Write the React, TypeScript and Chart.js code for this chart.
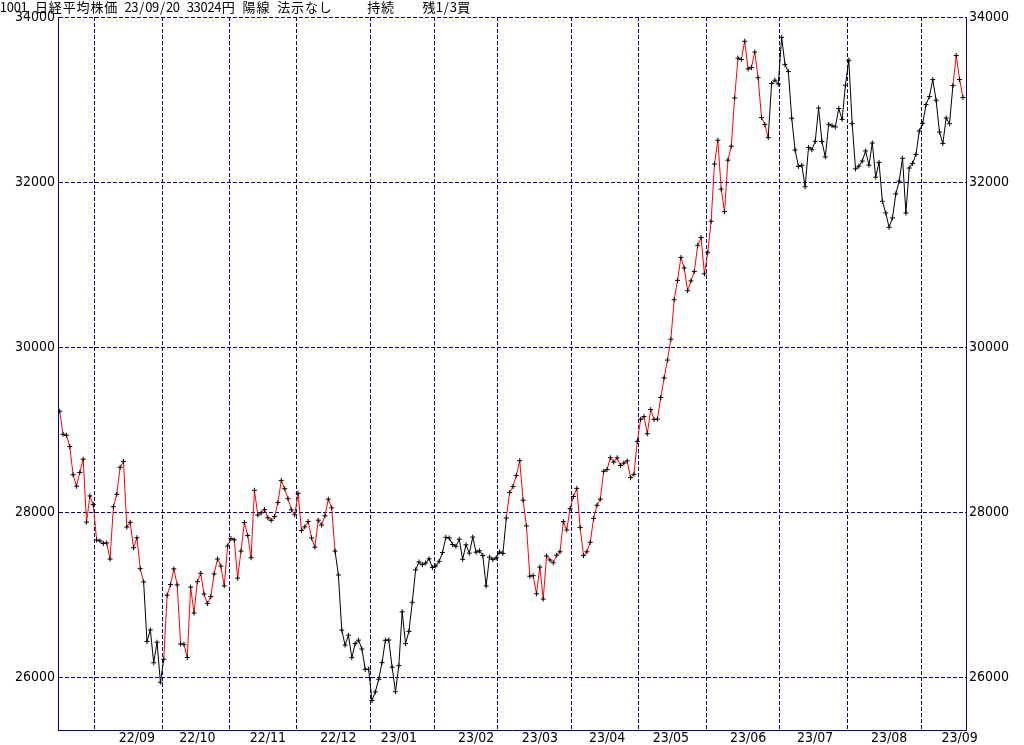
import { useEffect, useRef } from 'react';
import { Chart, registerables } from 'chart.js';

Chart.register(...registerables);

// Month labels (YY/MM)
const monthLabels = ['22/08', '22/09', '22/10', '22/11', '22/12', '23/01', '23/02', '23/03', '23/04', '23/05', '23/06', '23/07', '23/08', '23/09'];

// Trading days of each month
const tradingDays: number[][] = [
  [17, 18, 19, 22, 23, 24, 25, 26, 29, 30, 31],
  [1, 2, 5, 6, 7, 8, 9, 12, 13, 14, 15, 16, 20, 21, 22, 26, 27, 28, 29, 30],
  [3, 4, 5, 6, 7, 11, 12, 13, 14, 17, 18, 19, 20, 21, 24, 25, 26, 27, 28, 31],
  [1, 2, 4, 7, 8, 9, 10, 11, 14, 15, 16, 17, 18, 21, 22, 24, 25, 28, 29, 30],
  [1, 2, 5, 6, 7, 8, 9, 12, 13, 14, 15, 16, 19, 20, 21, 22, 23, 26, 27, 28, 29, 30],
  [4, 5, 6, 10, 11, 12, 13, 16, 17, 18, 19, 20, 23, 24, 25, 26, 27, 30, 31],
  [1, 2, 3, 6, 7, 8, 9, 10, 13, 14, 15, 16, 17, 20, 21, 22, 24, 27, 28],
  [1, 2, 3, 6, 7, 8, 9, 10, 13, 14, 15, 16, 17, 20, 22, 23, 24, 27, 28, 29, 30, 31],
  [3, 4, 5, 6, 7, 10, 11, 12, 13, 14, 17, 18, 19, 20, 21, 24, 25, 26, 27, 28],
  [1, 2, 8, 9, 10, 11, 12, 15, 16, 17, 18, 19, 22, 23, 24, 25, 26, 29, 30, 31],
  [1, 2, 5, 6, 7, 8, 9, 12, 13, 14, 15, 16, 19, 20, 21, 22, 23, 26, 27, 28, 29, 30],
  [3, 4, 5, 6, 7, 10, 11, 12, 13, 14, 18, 19, 20, 21, 24, 25, 26, 27, 28, 31],
  [1, 2, 3, 4, 7, 8, 9, 10, 14, 15, 16, 17, 18, 21, 22, 23, 24, 25, 28, 29, 30, 31],
  [1, 4, 5, 6, 7, 8, 11, 12, 13, 14, 15, 19, 20],
];

// Daily closes (yen), one array per month
const closes: number[][] = [
  [29222, 28942, 28930, 28794, 28452, 28313, 28479, 28641, 27878, 28195, 28091],
  [27661, 27650, 27619, 27626, 27430, 28065, 28214, 28542, 28614, 27818, 27875, 27567, 27688, 27313, 27153, 26431, 26571, 26173, 26422, 25937],
  [26215, 26992, 27120, 27311, 27116, 26401, 26397, 26237, 27090, 26775, 27156, 27257, 27006, 26890, 26974, 27250, 27431, 27345, 27105, 27587],
  [27678, 27663, 27199, 27527, 27872, 27716, 27446, 28263, 27963, 27990, 28028, 27930, 27899, 27944, 28115, 28383, 28283, 28162, 28027, 27968],
  [28226, 27777, 27820, 27885, 27686, 27574, 27901, 27842, 27954, 28156, 28051, 27527, 27237, 26568, 26387, 26507, 26235, 26405, 26447, 26340, 26093, 26094],
  [25716, 25820, 25973, 26175, 26446, 26449, 26119, 25822, 26138, 26791, 26405, 26553, 26906, 27299, 27395, 27362, 27382, 27433, 27327],
  [27346, 27402, 27509, 27693, 27685, 27606, 27584, 27670, 27427, 27602, 27501, 27696, 27513, 27531, 27473, 27104, 27453, 27423, 27445],
  [27516, 27498, 27927, 28237, 28309, 28444, 28623, 28143, 27832, 27222, 27229, 27010, 27333, 26945, 27466, 27419, 27385, 27476, 27518, 27883, 27782, 28041],
  [28188, 28287, 27813, 27472, 27518, 27633, 27923, 28082, 28156, 28493, 28514, 28658, 28606, 28657, 28564, 28593, 28620, 28416, 28457, 28856],
  [29123, 29157, 28949, 29242, 29122, 29126, 29388, 29626, 29842, 30093, 30573, 30808, 31086, 30957, 30682, 30801, 30916, 31233, 31328, 30887],
  [31148, 31524, 32217, 32506, 31913, 31641, 32265, 32434, 33018, 33502, 33485, 33706, 33370, 33388, 33575, 33264, 32781, 32698, 32538, 33193, 33234, 33189],
  [33753, 33422, 33338, 32773, 32388, 32189, 32203, 31943, 32419, 32391, 32493, 32896, 32490, 32304, 32700, 32682, 32668, 32891, 32759, 33172],
  [33476, 32707, 32159, 32192, 32254, 32377, 32204, 32473, 32059, 32238, 31766, 31626, 31450, 31565, 31856, 32010, 32287, 31624, 32169, 32226, 32333, 32619],
  [32710, 32939, 33036, 33241, 32991, 32606, 32467, 32776, 32707, 33168, 33533, 33242, 33024],
];

// Trend signals (date -> side); the line is red while "buy", black while "sell"
const signalDates = ['22/09/22', '22/10/03', '22/12/16', '23/03/03', '23/06/27', '23/09/14'];
const signalSides = ['sell', 'buy', 'sell', 'buy', 'sell', 'buy'];
const initialSide = 'buy';

// Y ticks
const yTicks = [26000, 28000, 30000, 32000, 34000];
const yMin = 25358;
const yMax = 34000;

// Header line (fixed-pitch text)
const headerText = '1001 日経平均株価 23/09/20 33024円 陽線 法示なし     持続    残1/3買';

// ---- derived ----
const points: { x: number; y: number }[] = [];
const dateKeys: string[] = [];
const monthStart: number[] = [];
{
  let idx = 0;
  monthLabels.forEach((m, mi) => {
    monthStart.push(idx);
    tradingDays[mi].forEach((d, di) => {
      dateKeys.push(`${m}/${String(d).padStart(2, '0')}`);
      points.push({ x: idx, y: closes[mi][di] });
      idx++;
    });
  });
}
const sideAt: string[] = [];
{
  let side = initialSide;
  dateKeys.forEach((k) => {
    const si = signalDates.indexOf(k);
    if (si >= 0) side = signalSides[si];
    sideAt.push(side);
  });
}
const LABEL_SHIFT = -0.4;
const boundaryValues = monthStart.slice(1).map((s) => s - 0.5);
const labelAnchors = new Map<number, string>();
monthLabels.forEach((m, mi) => {
  const days = tradingDays[mi];
  if (days[0] >= 10) return; // partial month, no label
  const di = days.findIndex((d) => d >= 10);
  labelAnchors.set(monthStart[mi] + di + LABEL_SHIFT, m);
});
const boundarySet = new Set(boundaryValues);
const xTickValues = [...boundaryValues, ...labelAnchors.keys()].sort((a, b) => a - b);

const NAVY = '#000080';
const tickFont = { family: "'Liberation Sans Narrow', 'DejaVu Sans Condensed', 'Noto Sans', sans-serif", size: 14 };

const headerPlugin = {
  id: 'headerText',
  afterDraw(chart: any) {
    const ctx = chart.ctx as CanvasRenderingContext2D;
    const cell = 6.92;
    ctx.save();
    ctx.font = "13px 'Noto Sans CJK JP', 'Noto Sans', sans-serif";
    ctx.fillStyle = '#000';
    ctx.textBaseline = 'alphabetic';
    ctx.textAlign = 'center';
    let u = 0;
    for (const ch of headerText) {
      const w = ch.charCodeAt(0) < 0x100 ? 1 : 2;
      if (ch !== ' ') ctx.fillText(ch, (u + w / 2) * cell, 12);
      u += w;
    }
    ctx.restore();
  },
};

export default function App() {
  const ref = useRef<HTMLCanvasElement | null>(null);
  useEffect(() => {
    if (!ref.current) return;
    const chart = new Chart(ref.current, {
      type: 'line',
      data: {
        datasets: [
          {
            data: points,
            borderWidth: 1,
            borderColor: '#000',
            tension: 0,
            pointStyle: 'cross',
            pointRadius: 2.5,
            pointBorderWidth: 1,
            pointBorderColor: '#000',
            pointBackgroundColor: '#000',
            segment: {
              borderColor: (c: any) => (sideAt[c.p0DataIndex] === 'buy' ? '#ff0000' : '#000000'),
            },
          },
        ],
      },
      options: {
        responsive: false,
        animation: false,
        maintainAspectRatio: false,
        layout: { padding: { top: 17, left: 0, right: 0, bottom: 0 } },
        plugins: { legend: { display: false }, tooltip: { enabled: false }, title: { display: false } },
        scales: {
          x: {
            type: 'linear',
            min: -0.5,
            max: 269.9,
            afterBuildTicks: (s: any) => {
              s.ticks = xTickValues.map((v) => ({ value: v }));
            },
            afterFit: (s: any) => {
              s.height = 15;
            },
            grid: {
              drawTicks: false,
              lineWidth: 1,
              color: (c: any) => (c.tick && boundarySet.has(c.tick.value) ? NAVY : 'rgba(0,0,0,0)'),
            },
            border: { display: true, color: NAVY, width: 1, dash: [4, 2] },
            ticks: {
              autoSkip: false,
              maxRotation: 0,
              minRotation: 0,
              align: 'start',
              padding: 0,
              color: '#000',
              font: tickFont,
              callback: (v: any) => labelAnchors.get(Number(v)) ?? '',
            },
          },
          y: {
            type: 'linear',
            position: 'left',
            min: yMin,
            max: yMax,
            afterBuildTicks: (s: any) => {
              s.ticks = yTicks.map((v) => ({ value: v }));
            },
            afterFit: (s: any) => {
              s.width = 58;
            },
            grid: { drawTicks: false, color: NAVY, lineWidth: 1 },
            border: { display: true, color: NAVY, width: 1, dash: [4, 2] },
            ticks: { padding: 3, color: '#000', font: tickFont, callback: (v: any) => String(v) },
          },
          y2: {
            type: 'linear',
            position: 'right',
            min: yMin,
            max: yMax,
            afterBuildTicks: (s: any) => {
              s.ticks = yTicks.map((v) => ({ value: v }));
            },
            afterFit: (s: any) => {
              s.width = 58;
            },
            grid: { display: false, drawTicks: false },
            border: { display: true, color: NAVY, width: 1 },
            ticks: { padding: 3, color: '#000', font: tickFont, callback: (v: any) => String(v) },
          },
        },
      } as any,
      plugins: [headerPlugin],
    });
    return () => chart.destroy();
  }, []);
  return (
    <div style={{ position: 'absolute', left: 0, top: 0, width: 1024, height: 745, background: '#fff' }}>
      <canvas ref={ref} width={1024} height={745} style={{ display: 'block' }} />
    </div>
  );
}
